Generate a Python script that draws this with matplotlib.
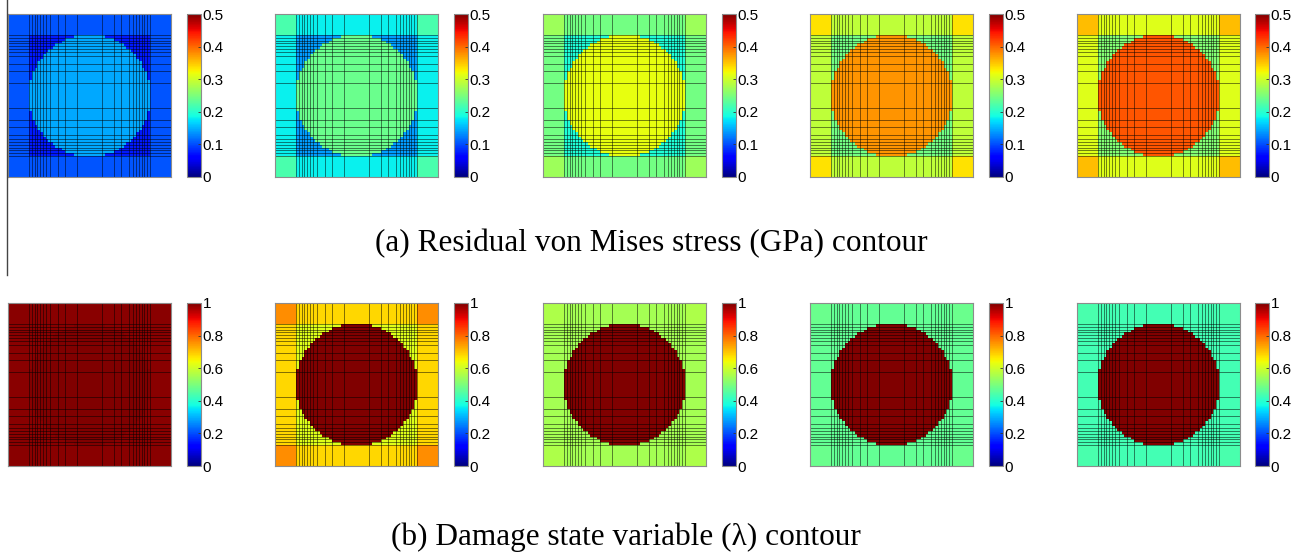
import numpy as np
import matplotlib
matplotlib.use("Agg")
import matplotlib.pyplot as plt
from matplotlib.lines import Line2D

# ---- data (region values per panel) ----
stress_fiber  = [0.145, 0.24, 0.315, 0.375, 0.41]
stress_band   = [0.075, 0.14, 0.195, 0.245, 0.255]
stress_strip  = [0.105, 0.18, 0.245, 0.29, 0.31]
stress_corner = [0.105, 0.22, 0.27, 0.335, 0.355]

damage_fiber  = [1.0, 1.0, 1.0, 1.0, 1.0]
damage_band   = [0.99, 0.62, 0.55, 0.47, 0.43]
damage_strip  = [0.99, 0.68, 0.55, 0.47, 0.43]
damage_corner = [0.99, 0.76, 0.56, 0.48, 0.44]

stress_ticks = [0, 0.1, 0.2, 0.3, 0.4, 0.5]
stress_ticklabels = ["0", "0.1", "0.2", "0.3", "0.4", "0.5"]
damage_ticks = [0, 0.2, 0.4, 0.6, 0.8, 1.0]
damage_ticklabels = ["0", "0.2", "0.4", "0.6", "0.8", "1"]

caption_a = "(a) Residual von Mises stress (GPa) contour"
caption_b = "(b) Damage state variable (\u03bb) contour"

# mesh line positions (normalised cell size), half domain, mirrored
mesh_half = [0.0, 0.13, 0.148, 0.164, 0.18, 0.198, 0.215, 0.236, 0.259, 0.307, 0.351, 0.423]
fiber_radius = 0.372
inner_edge = 0.13

# ---- geometry ----
lines = np.array(mesh_half + [1 - v for v in mesh_half[::-1]])
lines = np.unique(np.concatenate([lines, [1.0]]))
fine = [0.0]
for a, b in zip(lines[:-1], lines[1:]):
    n = int(np.ceil((b - a) / 0.022))
    fine.extend(list(np.linspace(a, b, n + 1)[1:]))
fine = np.array(fine)
cent = 0.5 * (fine[:-1] + fine[1:])
X, Y = np.meshgrid(cent, cent)
r = np.hypot(X - 0.5, Y - 0.5)
out_x = (X < inner_edge) | (X > 1 - inner_edge)
out_y = (Y < inner_edge) | (Y > 1 - inner_edge)
in_fiber = r < fiber_radius
corner = out_x & out_y
strip = (out_x | out_y) & ~corner
band = ~(out_x | out_y) & ~in_fiber

def field(fv, bv, sv, cv):
    Z = np.zeros_like(X)
    Z[band] = bv
    Z[strip] = sv
    Z[corner] = cv
    Z[in_fiber & ~(out_x | out_y)] = fv
    return Z

W, H = 1301, 556
fig = plt.figure(figsize=(W / 100, H / 100), dpi=100)
plt.rcParams['font.family'] = ['Liberation Sans', 'DejaVu Sans']

panel_x = [8, 275, 543, 810, 1077]
cbar_x = [187, 454, 722, 989, 1255]
rows = [
    dict(y0=14, y1=177, vmax=0.5, data=(stress_fiber, stress_band, stress_strip, stress_corner),
         ticks=stress_ticks, labels=stress_ticklabels),
    dict(y0=303, y1=466, vmax=1.0, data=(damage_fiber, damage_band, damage_strip, damage_corner),
         ticks=damage_ticks, labels=damage_ticklabels),
]
inner_lines = lines[1:-1]

def fr(x0, y0, w, h):
    return [x0 / W, 1 - (y0 + h) / H, w / W, h / H]

for row in rows:
    fv, bv, sv, cv = row["data"]
    h = row["y1"] - row["y0"]
    for i in range(5):
        ax = fig.add_axes(fr(panel_x[i], row["y0"], 163, h))
        Z = field(fv[i], bv[i], sv[i], cv[i])
        mesh = ax.pcolormesh(fine, fine, Z, cmap="jet", vmin=0, vmax=row["vmax"], shading="flat")
        for v in inner_lines:
            ax.axvline(v, color="k", lw=0.7, alpha=0.5)
            ax.axhline(v, color="k", lw=0.7, alpha=0.5)
        ax.set_xlim(0, 1)
        ax.set_ylim(1, 0)
        ax.set_xticks([])
        ax.set_yticks([])
        for s in ax.spines.values():
            s.set_color("#8c8c8c")
            s.set_linewidth(0.8)
        cax = fig.add_axes(fr(cbar_x[i], row["y0"], 14, h))
        cb = fig.colorbar(mesh, cax=cax, ticks=row["ticks"])
        cb.ax.set_yticklabels(row["labels"])
        cb.ax.tick_params(labelsize=11, length=2, width=0.6, direction="in", pad=1, colors="#333333")
        for lab in cb.ax.get_yticklabels():
            lab.set_color("black")
        cb.outline.set_edgecolor("#8c8c8c")
        cb.outline.set_linewidth(0.8)

fig.text(651 / W, 1 - 244 / H, caption_a, ha="center", va="center",
         fontsize=22.5, family=["Liberation Serif", "DejaVu Serif"])
fig.text(626 / W, 1 - 537 / H, caption_b, ha="center", va="center",
         fontsize=22.5, family=["Liberation Serif", "DejaVu Serif"])

fig.add_artist(Line2D([7 / W, 7 / W], [1, 1 - 275 / H], color="#444444", lw=1.0))

fig.savefig("out.png", dpi=100)
